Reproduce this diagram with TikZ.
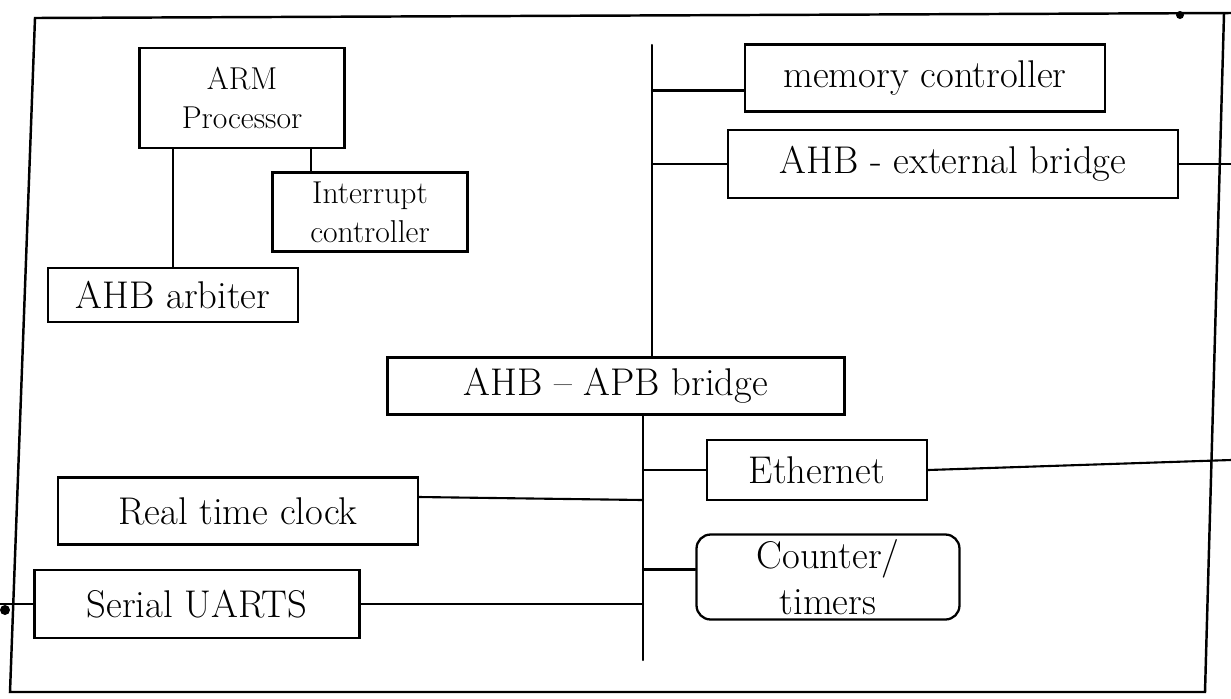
\documentclass[tikz,border=0pt]{standalone}
\usepackage{tikz}

\tikzset{
  blk/.style={draw, line width=1.3pt, inner sep=2pt, align=center,
    font=\fontsize{22}{26}\selectfont},
  blksm/.style={blk, font=\fontsize{18}{22}\selectfont},
  wire/.style={line width=1.2pt}
}

\begin{document}
\begin{tikzpicture}[x=0.02cm, y=-0.02cm, line cap=round]
    \useasboundingbox (0,0) rectangle (1231,698);
    % outer frame
    \coordinate (ftl) at (35,18); \coordinate (ftr) at (1224,14);
    \coordinate (fbr) at (1205,692); \coordinate (fbl) at (10,692);
    \draw[line width=1.4pt] (1231,13) -- (ftl) -- (fbl) -- (fbr) -- (ftr);
    \fill (1180,15) circle (4); \fill (5,610) circle (5);
    % AHB side
    \node[blksm, minimum width=4.1cm, minimum height=2.0cm] (arm) at (242,98) {ARM\\Processor};
    \node[blksm, minimum width=3.9cm, minimum height=1.58cm] (intc) at (370,212) {Interrupt\\controller};
    \node[blk, minimum width=5.0cm, minimum height=1.08cm] (arb) at (173,295) {AHB arbiter};
    \node[blk, minimum width=7.2cm, minimum height=1.34cm] (mem) at (925,78) {memory controller};
    \node[blk, minimum width=9.0cm, minimum height=1.36cm] (ext) at (953,164) {AHB - external bridge};
    \node[blk, minimum width=9.14cm, minimum height=1.14cm] (apb) at (616,386) {AHB -- APB bridge};
    % APB side
    \node[blk, minimum width=4.4cm, minimum height=1.2cm] (eth) at (817,470) {Ethernet};
    \node[blk, rounded corners=8pt, minimum width=5.26cm, minimum height=1.7cm] (ctr) at (828,577) {Counter/\\timers};
    \node[blk, minimum width=7.2cm, minimum height=1.34cm] (rtc) at (238,511) {Real time clock};
    \node[blk, minimum width=6.5cm, minimum height=1.36cm] (uart) at (197,604) {Serial UARTS};
    % buses
    \coordinate (ahbtop) at (652,45); \coordinate (apbbot) at (643,660);
    \draw[wire] (ahbtop) -- (ahbtop |- apb.north);
    \draw[wire] (apbbot |- apb.south) -- (apbbot);
    % connectors
    \coordinate (intctap) at ([xshift=0.8cm]intc.north west);
    \draw[wire] (arb.north |- arm.south) -- (arb.north);
    \draw[wire] (intctap |- arm.south) -- (intctap);
    \draw[wire] ([yshift=-0.25cm]mem.west) -- ([yshift=-0.25cm]mem.west -| ahbtop);
    \draw[wire] (ext.west) -- (ext.west -| ahbtop);
    \draw[wire] (ext.east) -- (ext.east -| 1231,0);
    \draw[wire] (eth.west) -- (eth.west -| apbbot);
    \draw[wire] (eth.east) -- (1231,460);
    \draw[wire] ([yshift=0.15cm]ctr.west) -- ([yshift=0.15cm]ctr.west -| apbbot);
    \draw[wire] ([yshift=0.28cm]rtc.east) -- ([yshift=0.22cm]rtc.east -| apbbot);
    \draw[wire] (uart.east) -- (uart.east -| apbbot);
    \draw[wire] (uart.west) -- (uart.west -| 0,0);
\end{tikzpicture}
\end{document}
